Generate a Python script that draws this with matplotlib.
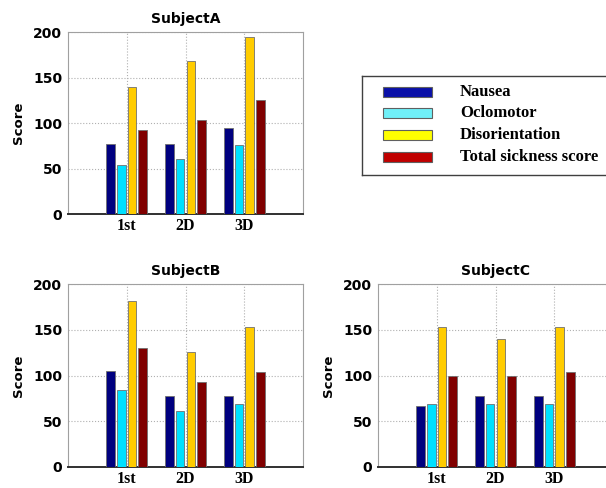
import matplotlib
matplotlib.use("Agg")
import matplotlib.pyplot as plt
from matplotlib.patches import Rectangle
from matplotlib.transforms import ScaledTranslation
import numpy as np

conditions = ["1st", "2D", "3D"]
series = ["Nausea", "Oclomotor", "Disorientation", "Total sickness score"]

subject_a = {
    "Nausea": [77, 77, 95],
    "Oclomotor": [54, 61, 76],
    "Disorientation": [140, 168, 195],
    "Total sickness score": [93, 104, 126],
}
subject_b = {
    "Nausea": [105, 77, 77],
    "Oclomotor": [84, 61, 69],
    "Disorientation": [182, 126, 153],
    "Total sickness score": [130, 93, 104],
}
subject_c = {
    "Nausea": [67, 77, 77],
    "Oclomotor": [69, 69, 69],
    "Disorientation": [153, 140, 153],
    "Total sickness score": [100, 100, 104],
}

bar_colors = ["#00007f", "#00e0ff", "#ffcc00", "#800000"]
legend_colors = ["#0a10a8", "#70f0f8", "#ffff00", "#c00000"]

W, H = 606, 488
fig = plt.figure(figsize=(W / 100, H / 100), dpi=100)


def px_axes(x0, y_top, w, h):
    return fig.add_axes([x0 / W, (H - y_top - h) / H, w / W, h / H])


def draw_subject(ax, title, data):
    x = np.arange(1, len(conditions) + 1)
    offsets = [-0.27, -0.092, 0.092, 0.27]
    for name, off, col in zip(series, offsets, bar_colors):
        ax.bar(x + off, data[name], width=0.15, color=col,
               edgecolor="#707070", linewidth=0.6, zorder=3)
    ax.set_xlim(0, 4)
    ax.set_ylim(0, 200)
    ax.set_xticks(x)
    ax.set_xticklabels(conditions, family="Liberation Serif",
                       fontweight="bold", fontsize=11.5)
    shift = ScaledTranslation(3 / 100, 0, fig.dpi_scale_trans)
    for lab in ax.get_xticklabels():
        lab.set_transform(lab.get_transform() + shift)
    ax.set_yticks([0, 50, 100, 150, 200])
    for lab in ax.get_yticklabels():
        lab.set_fontweight("bold")
        lab.set_fontsize(10)
    ax.tick_params(length=0, pad=4)
    ax.tick_params(axis="x", pad=3)
    ax.grid(True, linestyle=":", color="#b0b0b0", linewidth=0.8, zorder=0)
    for s in ["left", "top", "right"]:
        ax.spines[s].set_color("#a0a0a0")
        ax.spines[s].set_linewidth(0.8)
    ax.spines["bottom"].set_color("#303030")
    ax.spines["bottom"].set_linewidth(1.4)
    ax.set_ylabel("Score", fontweight="bold", fontsize=9.5, labelpad=6)
    ax.set_title(title, fontsize=10, fontweight="semibold", pad=7)


ax_a = px_axes(67.7, 32.3, 235.6, 181.7)
draw_subject(ax_a, "SubjectA", subject_a)
ax_b = px_axes(67.7, 284.3, 235.6, 182.4)
draw_subject(ax_b, "SubjectB", subject_b)
ax_c = px_axes(377.7, 284.3, 235.6, 182.4)
draw_subject(ax_c, "SubjectC", subject_c)

# legend box
leg = px_axes(362, 76, 260, 99)
leg.set_xlim(0, 260)
leg.set_ylim(99, 0)
leg.set_xticks([])
leg.set_yticks([])
for s in leg.spines.values():
    s.set_color("#404040")
    s.set_linewidth(1.0)
row_y = [15.7, 37.2, 59.0, 80.7]
for name, col, yy in zip(series, legend_colors, row_y):
    leg.add_patch(Rectangle((21, yy - 5), 49, 10, facecolor=col,
                            edgecolor="#606060", linewidth=0.8))
    leg.text(98, yy, name, family="Liberation Serif", fontweight="bold",
             fontsize=12, va="center", ha="left")

fig.savefig("out.png", dpi=100)
